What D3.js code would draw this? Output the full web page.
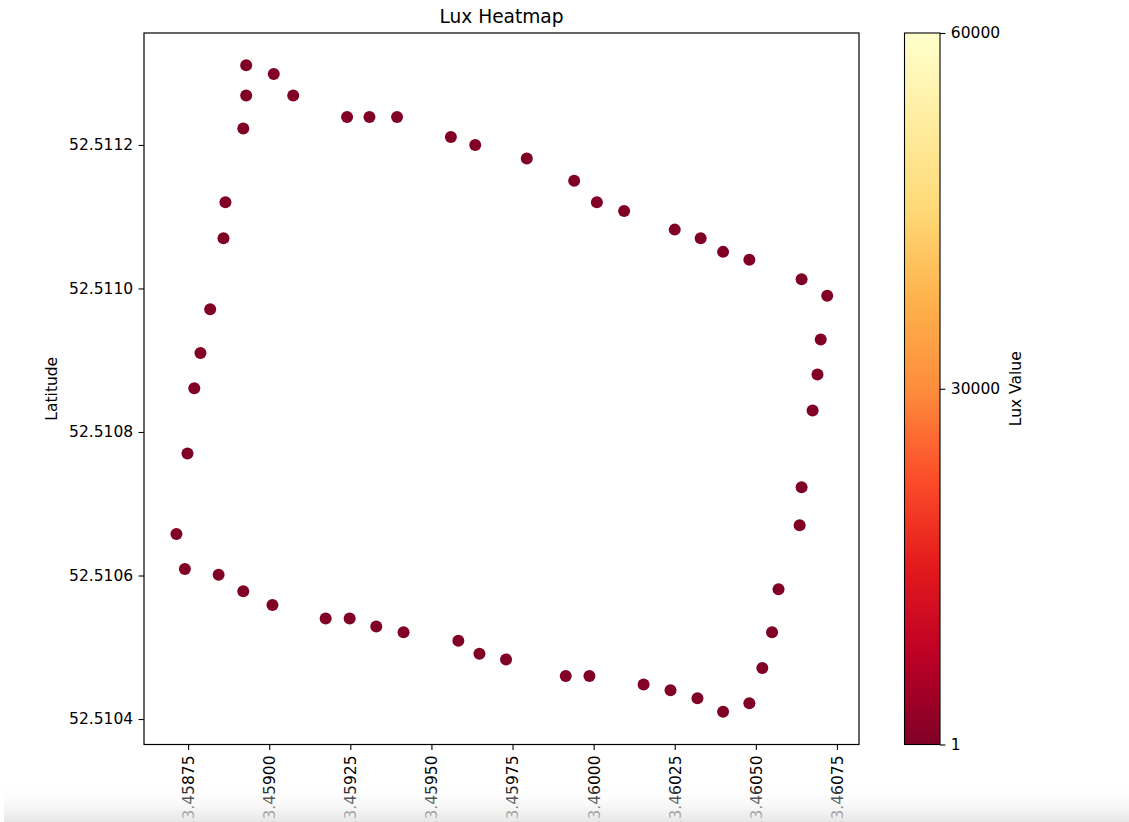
<!DOCTYPE html>
<html>
<head>
<meta charset="utf-8">
<script src="https://cdn.jsdelivr.net/npm/d3@7"></script>
<style>
  body { margin: 0; background: #fff; overflow: hidden; }
  svg text { font-family: "DejaVu Sans", sans-serif; }
</style>
</head>
<body>
<svg id="chart" width="1129" height="822"></svg>
<script>
// Longitude / latitude of each reading, walking round the loop
var lon = [13.458929, 13.459014, 13.458929, 13.459074, 13.458920, 13.459240, 13.459309, 13.459394,
    13.459560, 13.459635, 13.459794, 13.459940, 13.460010, 13.460094, 13.460250, 13.460330,
    13.460399, 13.460480, 13.460641, 13.460720, 13.460700, 13.460690, 13.460675, 13.460641,
    13.460635, 13.460570, 13.460550, 13.460520, 13.460480, 13.460399, 13.460320, 13.460237,
    13.460154, 13.459987, 13.459914, 13.459730, 13.459648, 13.459583, 13.459414, 13.459330,
    13.459248, 13.459174, 13.459010, 13.458920, 13.458844, 13.458740, 13.458714, 13.458748,
    13.458769, 13.458788, 13.458818, 13.458859, 13.458865];
var lat = [52.511311, 52.511299, 52.511269, 52.511269, 52.511223, 52.511239, 52.511239, 52.511239,
    52.511211, 52.511200, 52.511181, 52.511150, 52.511120, 52.511108, 52.511082, 52.511070,
    52.511051, 52.511040, 52.511013, 52.510990, 52.510929, 52.510880, 52.510830, 52.510723,
    52.510670, 52.510581, 52.510521, 52.510471, 52.510422, 52.510410, 52.510429, 52.510440,
    52.510448, 52.510460, 52.510460, 52.510483, 52.510491, 52.510509, 52.510521, 52.510529,
    52.510540, 52.510540, 52.510559, 52.510578, 52.510601, 52.510609, 52.510658, 52.510770,
    52.510861, 52.510910, 52.510971, 52.511070, 52.511120];
// every dot is the darkest colour of the map, so the readings sit at the bottom of the range
var lux = [1, 1, 1, 1, 1, 1, 1, 1, 1, 1, 1, 1, 1, 1, 1, 1, 1, 1, 1, 1, 1, 1, 1, 1, 1, 1, 1,
    1, 1, 1, 1, 1, 1, 1, 1, 1, 1, 1, 1, 1, 1, 1, 1, 1, 1, 1, 1, 1, 1, 1, 1, 1, 1];

var lonTicks = [13.45875, 13.459, 13.45925, 13.4595, 13.45975, 13.46, 13.46025, 13.4605, 13.46075];
var latTicks = [52.5104, 52.5106, 52.5108, 52.511, 52.5112];
var luxTicks = [1, 30000, 60000];
var luxRange = [1, 60000];

// YlOrRd, reversed (dark red for low values)
var ylorrd = ["#800026", "#bd0026", "#e31a1c", "#fc4e2a", "#fd8d3c", "#feb24c", "#fed976", "#ffeda0", "#ffffcc"];

var svg = d3.select("#chart");
var plot = {left: 144, right: 859, top: 33, bottom: 744.5};

var x = d3.scaleLinear()
    .domain([13.458614, 13.460818])
    .range([plot.left, plot.right]);
var y = d3.scaleLinear()
    .domain([52.5103645, 52.511356])
    .range([plot.bottom, plot.top]);

var colorStops = d3.range(ylorrd.length).map(function(i){
    return luxRange[0] + (luxRange[1] - luxRange[0]) * i / (ylorrd.length - 1);
});
var color = d3.scaleLinear().domain(colorStops).range(ylorrd).clamp(true);

svg.append("text")
    .attr("x", (plot.left + plot.right) / 2)
    .attr("y", 23)
    .attr("text-anchor", "middle")
    .style("font-size", "18.6px")
    .text("Lux Heatmap");

// points
svg.append("g").selectAll("circle")
    .data(lon.map(function(d, i){ return {lon: d, lat: lat[i], lux: lux[i]}; }))
    .enter().append("circle")
    .attr("cx", function(d){ return x(d.lon); })
    .attr("cy", function(d){ return y(d.lat); })
    .attr("r", 6)
    .attr("fill", function(d){ return color(d.lux); });

// axes
var xAxis = svg.append("g")
    .attr("transform", "translate(0," + plot.bottom + ")")
    .call(d3.axisBottom(x).tickValues(lonTicks).tickFormat(d3.format(".5f")).tickSizeOuter(0).tickSize(5.4).tickPadding(5.4));
xAxis.selectAll("text")
    .attr("transform", "rotate(-90)")
    .attr("text-anchor", "end")
    .attr("x", -11)
    .attr("y", 0)
    .attr("dy", "0.35em");

var yAxis = svg.append("g")
    .attr("transform", "translate(" + plot.left + ",0)")
    .call(d3.axisLeft(y).tickValues(latTicks).tickFormat(d3.format(".4f")).tickSizeOuter(0).tickSize(5.4).tickPadding(5.4));

[xAxis, yAxis].forEach(function(g){
    g.attr("font-family", null).attr("font-size", null);
    g.select(".domain").remove();
    g.selectAll("line").attr("stroke", "#000").attr("stroke-width", 1.1);
    g.selectAll("text").style("font-size", "15.5px").attr("fill", "#000");
});

svg.append("rect")
    .attr("x", plot.left).attr("y", plot.top)
    .attr("width", plot.right - plot.left).attr("height", plot.bottom - plot.top)
    .attr("fill", "none").attr("stroke", "#000").attr("stroke-width", 1.2);

svg.append("text")
    .attr("transform", "translate(57," + (plot.top + plot.bottom) / 2 + ") rotate(-90)")
    .attr("text-anchor", "middle")
    .style("font-size", "15.5px")
    .text("Latitude");

// colorbar
var cb = {left: 904.5, right: 940, top: plot.top, bottom: plot.bottom};
var defs = svg.append("defs");
var grad = defs.append("linearGradient")
    .attr("id", "luxGrad")
    .attr("x1", "0%").attr("y1", "100%")
    .attr("x2", "0%").attr("y2", "0%");
grad.selectAll("stop").data(ylorrd).enter().append("stop")
    .attr("offset", function(d, i){ return (i / (ylorrd.length - 1) * 100) + "%"; })
    .attr("stop-color", function(d){ return d; });

var cbScale = d3.scaleLinear().domain(luxRange).range([cb.bottom, cb.top]);

svg.append("rect")
    .attr("x", cb.left).attr("y", cb.top)
    .attr("width", cb.right - cb.left).attr("height", cb.bottom - cb.top)
    .attr("fill", "url(#luxGrad)")
    .attr("stroke", "#000").attr("stroke-width", 1.1);

var cAxis = svg.append("g")
    .attr("transform", "translate(" + cb.right + ",0)")
    .call(d3.axisRight(cbScale).tickValues(luxTicks).tickFormat(d3.format("d")).tickSizeOuter(0).tickSize(5.4).tickPadding(5.4));
cAxis.attr("font-family", null).attr("font-size", null);
cAxis.select(".domain").remove();
cAxis.selectAll("line").attr("stroke", "#000").attr("stroke-width", 1.1);
cAxis.selectAll("text").style("font-size", "15.5px").attr("fill", "#000");

svg.append("text")
    .attr("transform", "translate(1021," + (cb.top + cb.bottom) / 2 + ") rotate(-90)")
    .attr("text-anchor", "middle")
    .style("font-size", "15.5px")
    .text("Lux Value");

// grey fade across the bottom edge of the page
var fade = defs.append("linearGradient")
    .attr("id", "fade")
    .attr("x1", "0%").attr("y1", "0%")
    .attr("x2", "0%").attr("y2", "100%");
fade.append("stop").attr("offset", "0%").attr("stop-color", "#fff").attr("stop-opacity", 0);
fade.append("stop").attr("offset", "100%").attr("stop-color", "#e4e4e4").attr("stop-opacity", 0.9);
svg.append("rect")
    .attr("x", 4).attr("y", 784)
    .attr("width", 1125).attr("height", 38)
    .attr("fill", "url(#fade)");
</script>
</body>
</html>
